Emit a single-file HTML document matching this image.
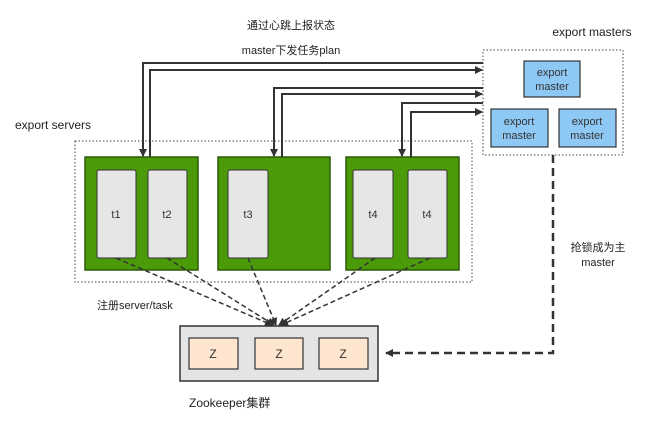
<!DOCTYPE html>
<html><head><meta charset="utf-8"><style>
body{margin:0;background:#fff;}
svg text{font-family:"Liberation Sans","Noto Sans CJK SC",sans-serif;}
</style></head><body>
<svg width="660" height="434" viewBox="0 0 660 434" xmlns="http://www.w3.org/2000/svg">
<defs>
<marker id="a" markerWidth="8" markerHeight="8" refX="7" refY="4" orient="auto" markerUnits="userSpaceOnUse"><path d="M0,0 L8,4 L0,8 Z" fill="#333"/></marker>
</defs>
<rect width="660" height="434" fill="#fff"/>
<text x="291" y="29" font-size="11" text-anchor="middle" fill="#222">通过心跳上报状态</text>
<text x="291" y="54" font-size="11" text-anchor="middle" fill="#222">master下发任务plan</text>
<text x="592" y="36" font-size="12" text-anchor="middle" fill="#222">export masters</text>
<text x="15" y="129" font-size="12" fill="#222">export servers</text>
<rect x="75" y="141" width="397" height="141" fill="none" stroke="#444" stroke-dasharray="1.5,2"/>
<rect x="483" y="50" width="140" height="105" fill="none" stroke="#444" stroke-dasharray="1.5,2"/>
<g fill="#4a9a0a" stroke="#2a5a05" stroke-width="1.5">
<rect x="85" y="157" width="113" height="113"/>
<rect x="218" y="157" width="112" height="113"/>
<rect x="346" y="157" width="113" height="113"/>
</g>
<g fill="#e6e6e6" stroke="#333" stroke-width="1">
<rect x="97" y="170" width="39" height="88" rx="2"/>
<rect x="148" y="170" width="39" height="88" rx="2"/>
<rect x="228" y="170" width="40" height="88" rx="2"/>
<rect x="353" y="170" width="40" height="88" rx="2"/>
<rect x="408" y="170" width="39" height="88" rx="2"/>
</g>
<g font-size="11" fill="#333" text-anchor="middle">
<text x="116" y="218">t1</text><text x="167" y="218">t2</text><text x="248" y="218">t3</text><text x="373" y="218">t4</text><text x="427" y="218">t4</text>
</g>
<g fill="#8ec8f4" stroke="#333" stroke-width="1.2">
<rect x="524" y="61" width="56" height="36"/>
<rect x="491" y="109" width="57" height="38"/>
<rect x="559" y="109" width="57" height="38"/>
</g>
<g font-size="11" fill="#333" text-anchor="middle">
<text x="552" y="76">export</text><text x="552" y="90">master</text>
<text x="519" y="125">export</text><text x="519" y="139">master</text>
<text x="587" y="125">export</text><text x="587" y="139">master</text>
</g>
<g fill="none" stroke="#333" stroke-width="2">
<path d="M483,63 H143 V156" marker-end="url(#a)"/>
<path d="M150,157 V70 H482" marker-end="url(#a)"/>
<path d="M483,88 H274 V156" marker-end="url(#a)"/>
<path d="M282,157 V94 H482" marker-end="url(#a)"/>
<path d="M483,103 H402 V156" marker-end="url(#a)"/>
<path d="M411,157 V112 H482" marker-end="url(#a)"/>
</g>
<g fill="none" stroke="#333" stroke-width="1.5" stroke-dasharray="5,3">
<path d="M116,258 L272,325" marker-end="url(#a)"/>
<path d="M167,258 L274,325" marker-end="url(#a)"/>
<path d="M248,258 L276,325" marker-end="url(#a)"/>
<path d="M375,258 L279,325" marker-end="url(#a)"/>
<path d="M430,258 L281,325" marker-end="url(#a)"/>
</g>
<path d="M553,155 V353 H386" fill="none" stroke="#333" stroke-width="2.5" stroke-dasharray="8,5" marker-end="url(#a)"/>
<text x="598" y="251" font-size="11" text-anchor="middle" fill="#222">抢锁成为主</text>
<text x="598" y="266" font-size="11" text-anchor="middle" fill="#222">master</text>
<text x="97" y="309" font-size="11" fill="#222">注册server/task</text>
<rect x="180" y="326" width="198" height="55" fill="#e4e4e4" stroke="#333" stroke-width="1.5"/>
<g fill="#fde5cf" stroke="#333" stroke-width="1.2">
<rect x="189" y="338" width="49" height="31"/>
<rect x="255" y="338" width="48" height="31"/>
<rect x="319" y="338" width="49" height="31"/>
</g>
<g font-size="12" fill="#333" text-anchor="middle">
<text x="213" y="358">Z</text><text x="279" y="358">Z</text><text x="343" y="358">Z</text>
</g>
<text x="189" y="407" font-size="12" fill="#222">Zookeeper集群</text>
</svg>
</body></html>
